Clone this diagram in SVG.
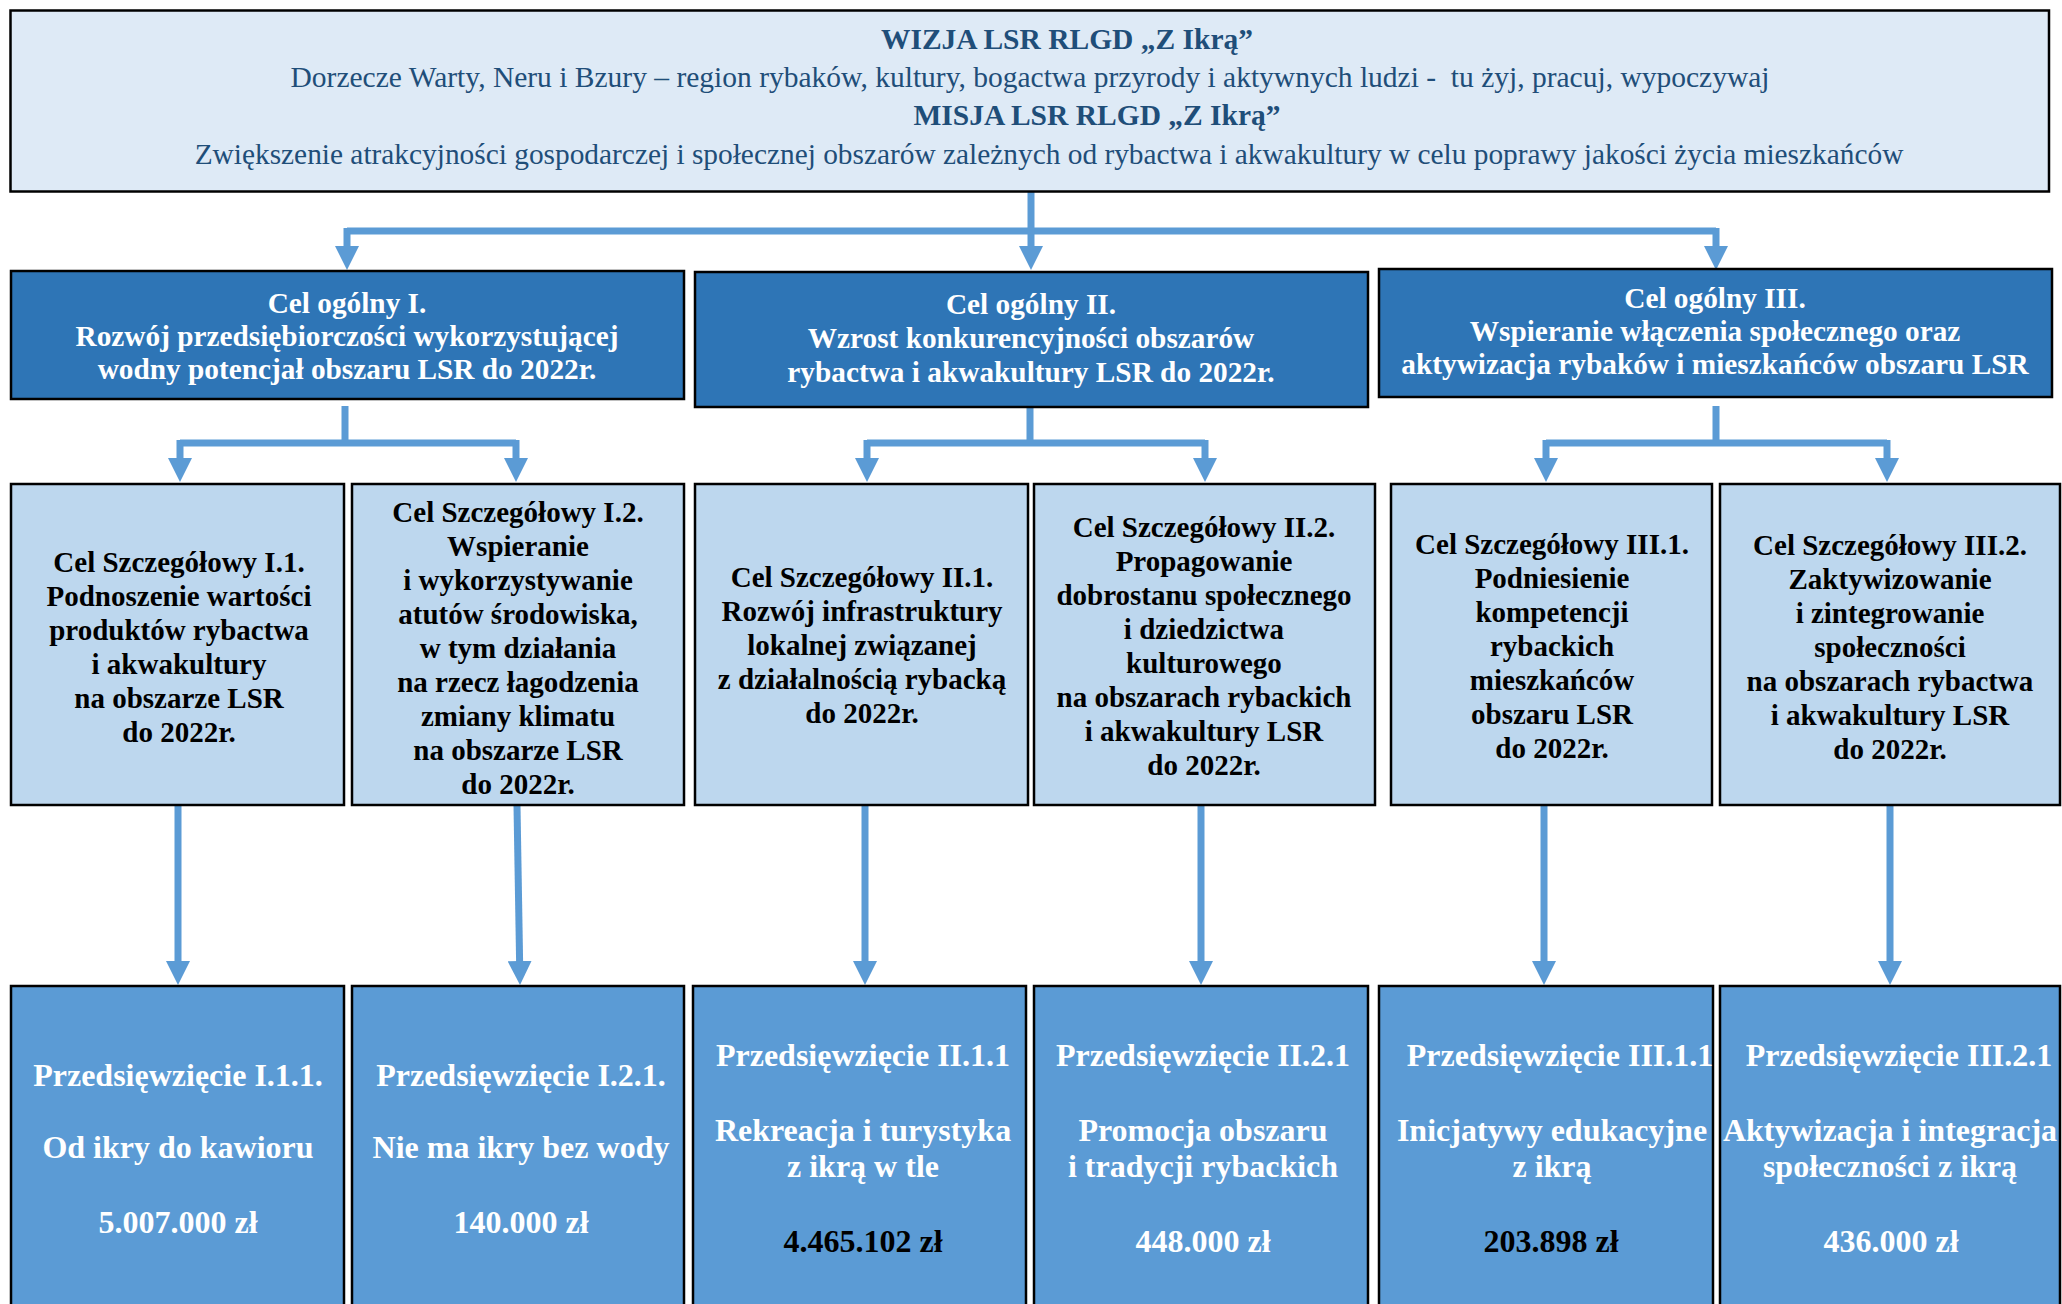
<svg xmlns="http://www.w3.org/2000/svg" width="2062" height="1304" viewBox="0 0 2062 1304">
<style>
.box{stroke:#000;stroke-width:2.5}
.top{fill:#DEEAF6}
.gen{fill:#2E75B6}
.det{fill:#BDD7EE}
.act{fill:#5B9BD5}
text{font-family:"Liberation Serif","Times New Roman",serif;text-anchor:middle}
.tt{fill:#1F4E79;font-size:29.5px}
.tb{font-weight:bold}
.wg{fill:#fff;font-weight:bold;font-size:29.3px}
.bk{fill:#000;font-weight:bold;font-size:29px}
.wa{fill:#fff;font-weight:bold;font-size:32px}
.ba{fill:#000;font-weight:bold;font-size:32px}
.con{fill:none;stroke:#5B9BD5;stroke-width:7}
.arr{marker-end:url(#ah)}
</style>
<defs>
<marker id="ah" markerUnits="userSpaceOnUse" markerWidth="24" markerHeight="24" viewBox="0 0 24 24" refX="6" refY="12" orient="auto">
<path d="M0,0 L24,12 L0,24 z" fill="#5B9BD5"/>
</marker>
</defs>

<g id="connectors">
<path class="con" d="M347,231 H1716"/>
<path class="con arr" d="M1031,192 V252"/>
<path class="con arr" d="M347,228 V252"/>
<path class="con arr" d="M1716,228 V252"/>

<path class="con" d="M345,406 V443 M180,443 H516"/>
<path class="con arr" d="M180,440 V464"/>
<path class="con arr" d="M516,440 V464"/>
<path class="con" d="M1030,407 V443 M867,443 H1205"/>
<path class="con arr" d="M867,440 V464"/>
<path class="con arr" d="M1205,440 V464"/>
<path class="con" d="M1716,406 V443 M1546,443 H1887"/>
<path class="con arr" d="M1546,440 V464"/>
<path class="con arr" d="M1887,440 V464"/>

<path class="con arr" d="M178,806 V967"/>
<path class="con arr" d="M517,806 L519.7,967"/>
<path class="con arr" d="M865,806 V967"/>
<path class="con arr" d="M1201,806 V967"/>
<path class="con arr" d="M1544,806 V967"/>
<path class="con arr" d="M1890,806 V967"/>
</g>

<g id="top">
<rect class="box top" x="10.5" y="10.5" width="2038.5" height="181"/>
<text class="tt tb" x="1067" y="49">WIZJA LSR RLGD „Z Ikrą”</text>
<text class="tt" x="1030" y="87" xml:space="preserve">Dorzecze Warty, Neru i Bzury – region rybaków, kultury, bogactwa przyrody i aktywnych ludzi -  tu żyj, pracuj, wypoczywaj</text>
<text class="tt tb" x="1097" y="125">MISJA LSR RLGD „Z Ikrą”</text>
<text class="tt" x="1049" y="164" style="font-size:29.36px">Zwiększenie atrakcyjności gospodarczej i społecznej obszarów zależnych od rybactwa i akwakultury w celu poprawy jakości życia mieszkańców</text>
</g>

<g id="cel1">
<rect class="box gen" x="11" y="271" width="673" height="128"/>
<text class="wg" x="347" y="313">Cel ogólny I.</text>
<text class="wg" x="347" y="346">Rozwój przedsiębiorczości wykorzystującej</text>
<text class="wg" x="347" y="379">wodny potencjał obszaru LSR do 2022r.</text>
</g>
<g id="cel2">
<rect class="box gen" x="695" y="272" width="673" height="135"/>
<text class="wg" x="1031" y="314">Cel ogólny II.</text>
<text class="wg" x="1031" y="348">Wzrost konkurencyjności obszarów</text>
<text class="wg" x="1031" y="382">rybactwa i akwakultury LSR do 2022r.</text>
</g>
<g id="cel3">
<rect class="box gen" x="1379" y="269" width="673" height="128"/>
<text class="wg" x="1715" y="308">Cel ogólny III.</text>
<text class="wg" x="1715" y="341">Wspieranie włączenia społecznego oraz</text>
<text class="wg" x="1715" y="374">aktywizacja rybaków i mieszkańców obszaru LSR</text>
</g>

<g id="cs11">
<rect class="box det" x="11" y="484" width="333" height="321"/>
<text class="bk" x="179" y="572">Cel Szczegółowy I.1.</text>
<text class="bk" x="179" y="606">Podnoszenie wartości</text>
<text class="bk" x="179" y="640">produktów rybactwa</text>
<text class="bk" x="179" y="674">i akwakultury</text>
<text class="bk" x="179" y="708">na obszarze LSR</text>
<text class="bk" x="179" y="742">do 2022r.</text>
</g>
<g id="cs12">
<rect class="box det" x="352" y="484" width="332" height="321"/>
<text class="bk" x="518" y="522">Cel Szczegółowy I.2.</text>
<text class="bk" x="518" y="556">Wspieranie</text>
<text class="bk" x="518" y="590">i wykorzystywanie</text>
<text class="bk" x="518" y="624">atutów środowiska,</text>
<text class="bk" x="518" y="658">w tym działania</text>
<text class="bk" x="518" y="692">na rzecz łagodzenia</text>
<text class="bk" x="518" y="726">zmiany klimatu</text>
<text class="bk" x="518" y="760">na obszarze LSR</text>
<text class="bk" x="518" y="794">do 2022r.</text>
</g>
<g id="cs21">
<rect class="box det" x="695" y="484" width="333" height="321"/>
<text class="bk" x="862" y="587">Cel Szczegółowy II.1.</text>
<text class="bk" x="862" y="621">Rozwój infrastruktury</text>
<text class="bk" x="862" y="655">lokalnej związanej</text>
<text class="bk" x="862" y="689">z działalnością rybacką</text>
<text class="bk" x="862" y="723">do 2022r.</text>
</g>
<g id="cs22">
<rect class="box det" x="1034" y="484" width="341" height="321"/>
<text class="bk" x="1204" y="537">Cel Szczegółowy II.2.</text>
<text class="bk" x="1204" y="571">Propagowanie</text>
<text class="bk" x="1204" y="605">dobrostanu społecznego</text>
<text class="bk" x="1204" y="639">i dziedzictwa</text>
<text class="bk" x="1204" y="673">kulturowego</text>
<text class="bk" x="1204" y="707">na obszarach rybackich</text>
<text class="bk" x="1204" y="741">i akwakultury LSR</text>
<text class="bk" x="1204" y="775">do 2022r.</text>
</g>
<g id="cs31">
<rect class="box det" x="1391" y="484" width="321" height="321"/>
<text class="bk" x="1552" y="554">Cel Szczegółowy III.1.</text>
<text class="bk" x="1552" y="588">Podniesienie</text>
<text class="bk" x="1552" y="622">kompetencji</text>
<text class="bk" x="1552" y="656">rybackich</text>
<text class="bk" x="1552" y="690">mieszkańców</text>
<text class="bk" x="1552" y="724">obszaru LSR</text>
<text class="bk" x="1552" y="758">do 2022r.</text>
</g>
<g id="cs32">
<rect class="box det" x="1720" y="484" width="340" height="321"/>
<text class="bk" x="1890" y="555">Cel Szczegółowy III.2.</text>
<text class="bk" x="1890" y="589">Zaktywizowanie</text>
<text class="bk" x="1890" y="623">i zintegrowanie</text>
<text class="bk" x="1890" y="657">społeczności</text>
<text class="bk" x="1890" y="691">na obszarach rybactwa</text>
<text class="bk" x="1890" y="725">i akwakultury LSR</text>
<text class="bk" x="1890" y="759">do 2022r.</text>
</g>

<g id="p111">
<rect class="box act" x="11" y="986" width="333" height="340"/>
<text class="wa" x="178" y="1086">Przedsięwzięcie I.1.1.</text>
<text class="wa" x="178" y="1158">Od ikry do kawioru</text>
<text class="wa" x="178" y="1233">5.007.000 zł</text>
</g>
<g id="p121">
<rect class="box act" x="352" y="986" width="332" height="340"/>
<text class="wa" x="521" y="1086">Przedsięwzięcie I.2.1.</text>
<text class="wa" x="521" y="1158">Nie ma ikry bez wody</text>
<text class="wa" x="521" y="1233">140.000 zł</text>
</g>
<g id="p211">
<rect class="box act" x="693" y="986" width="333" height="340"/>
<text class="wa" x="863" y="1066">Przedsięwzięcie II.1.1</text>
<text class="wa" x="863" y="1141">Rekreacja i turystyka</text>
<text class="wa" x="863" y="1177">z ikrą w tle</text>
<text class="ba" x="863" y="1252">4.465.102 zł</text>
</g>
<g id="p221">
<rect class="box act" x="1034" y="986" width="334" height="340"/>
<text class="wa" x="1203" y="1066">Przedsięwzięcie II.2.1</text>
<text class="wa" x="1203" y="1141">Promocja obszaru</text>
<text class="wa" x="1203" y="1177">i tradycji rybackich</text>
<text class="wa" x="1203" y="1252">448.000 zł</text>
</g>
<g id="p311">
<rect class="box act" x="1379" y="986" width="334" height="340"/>
<text class="wa" x="1560" y="1066">Przedsięwzięcie III.1.1</text>
<text class="wa" x="1552" y="1141">Inicjatywy edukacyjne</text>
<text class="wa" x="1552" y="1177">z ikrą</text>
<text class="ba" x="1551" y="1252">203.898 zł</text>
</g>
<g id="p321">
<rect class="box act" x="1720" y="986" width="340" height="340"/>
<text class="wa" x="1899" y="1066">Przedsięwzięcie III.2.1</text>
<text class="wa" x="1890" y="1141">Aktywizacja i integracja</text>
<text class="wa" x="1890" y="1177">społeczności z ikrą</text>
<text class="wa" x="1891" y="1252">436.000 zł</text>
</g>
</svg>
